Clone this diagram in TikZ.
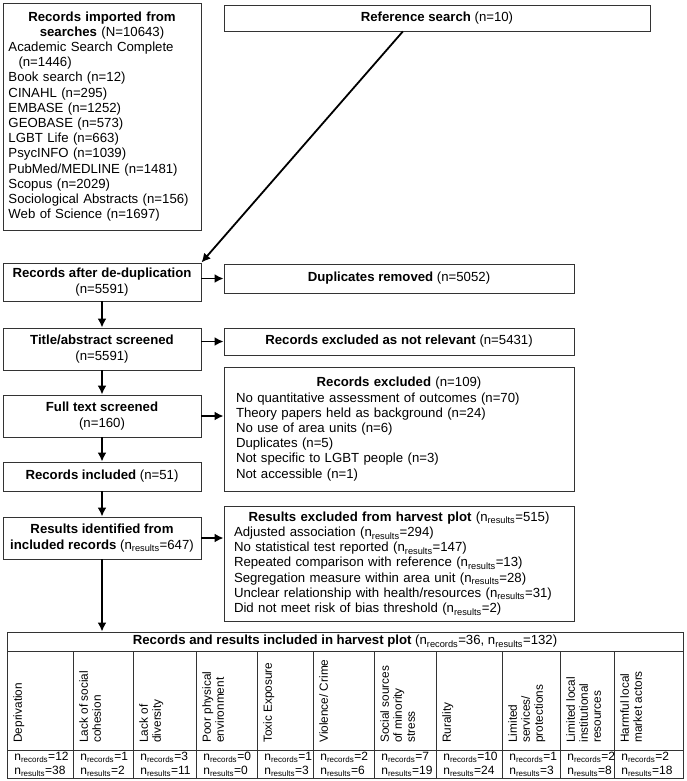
\documentclass[tikz,border=0pt]{standalone}
\usepackage{fontspec}
\setmainfont{Liberation Sans}
\usetikzlibrary{arrows.meta,calc}
\newcommand{\nrecords}{n\textsubscript{records}}
\newcommand{\nresults}{n\textsubscript{results}}
\begin{document}
\begin{tikzpicture}[x=1pt,y=-1pt,thick,>={Latex[length=9pt,width=9pt]},
    flow/.style={rectangle,draw=black!80,line width=0.9pt,inner sep=0pt,font=\fontsize{13.2}{15.2}\selectfont},
    stage/.style={flow,minimum width=198pt},
    side/.style={flow,minimum width=350pt},
    arrow/.style={->,line width=1.8pt},
    cell/.style={inner sep=2pt,font=\fontsize{11.8}{13}\selectfont}]
    \useasboundingbox (0,0) rectangle (686,781);
    \node[flow,minimum width=198pt,minimum height=227pt,text width=187pt,align=left] at (102,116.5) (search) {%
        {\centering\textbf{Records imported from}\\\textbf{searches} (N=10643)\par}
        Academic Search Complete\\
        \hspace*{10pt}(n=1446)\\
        Book search (n=12)\\
        CINAHL (n=295)\\
        EMBASE (n=1252)\\
        GEOBASE (n=573)\\
        LGBT Life (n=663)\\
        PsycINFO (n=1039)\\
        PubMed/MEDLINE (n=1481)\\
        Scopus (n=2029)\\
        Sociological Abstracts (n=156)\\
        Web of Science (n=1697)};
    \node[flow,minimum width=426pt,minimum height=26pt] at (437,18) (ref) {\textbf{Reference search} (n=10)};
    \node[stage,minimum height=38pt,align=center] at (102,282) (dedup) {\textbf{Records after de-duplication}\\(n=5591)};
    \node[side,minimum height=29pt] at (399,278.5) (dup) {\textbf{Duplicates removed} (n=5052)};
    \node[stage,minimum height=42pt,align=center] at (102,349) (title) {\textbf{Title/abstract screened}\\(n=5591)};
    \node[side,minimum height=27pt] at (399,341.5) (notrel) {\textbf{Records excluded as not relevant} (n=5431)};
    \node[stage,minimum height=42pt,align=center] at (102,416) (full) {\textbf{Full text screened}\\(n=160)};
    \node[side,minimum height=124pt,text width=326pt,align=left] at (399,429) (excl) {%
        {\centering\textbf{Records excluded} (n=109)\par}
        No quantitative assessment of outcomes (n=70)\\
        Theory papers held as background (n=24)\\
        No use of area units (n=6)\\
        Duplicates (n=5)\\
        Not specific to LGBT people (n=3)\\
        Not accessible (n=1)};
    \node[stage,minimum height=29pt] at (102,476.5) (incl) {\textbf{Records included} (n=51)};
    \node[stage,minimum height=42pt,align=center] at (102,538) (results) {\textbf{Results identified from}\\\textbf{included records} (\nresults=647)};
    \node[side,minimum height=115pt,text width=330pt,align=left] at (399,563.5) (resexcl) {%
        {\centering\textbf{Results excluded from harvest plot} (\nresults=515)\par}
        Adjusted association (\nresults=294)\\
        No statistical test reported (\nresults=147)\\
        Repeated comparison with reference (\nresults=13)\\
        Segregation measure within area unit (\nresults=28)\\
        Unclear relationship with health/resources (\nresults=31)\\
        Did not meet risk of bias threshold (\nresults=2)};
    \node[rectangle,draw=black!80,line width=0.9pt,inner sep=0pt,minimum width=676pt,minimum height=146pt] at (345,705) (plot) {};
    \node[flow,draw=none] at (345,641.5) (plothead) {\textbf{Records and results included in harvest plot} (\nrecords=36, \nresults=132)};

    % harvest plot columns
    \draw[black!80,line width=0.6pt] (7,651) -- (683,651) (7,750) -- (683,750);
    \foreach \x in {73,133,196,257,313,374,436,502,560,614}
        \draw[black!80,line width=0.6pt] (\x,651) -- (\x,778);
    \foreach \xa/\lab/\nrec/\nres in {7/Deprivation/12/38, 73/{Lack of social\\cohesion}/1/2,
            133/{Lack of\\diversity}/3/11, 196/{Poor physical\\environment}/0/0,
            257/{Toxic Exposure}/1/3, 313/{Violence/ Crime}/2/6,
            374/{Social sources\\of minority\\stress}/7/19, 436/Rurality/10/24,
            502/{Limited\\services/\\protections}/1/3, 560/{Limited local\\institutional\\resources}/2/8,
            614/{Harmful local\\market actors}/2/18} {
        \node[cell,rotate=90,anchor=north west,align=left] at (\xa+4,745) (lab\xa) {\lab};
        \node[cell,anchor=west,align=left,font=\fontsize{12}{14}\selectfont] at (\xa+5,764.5) (num\xa) {\nrecords=\nrec\\\nresults=\nres};
    }

    \path[arrow]
        ($(ref.south west)!0.42!(ref.south east)$) edge (dedup.north east)
        (dup.west -| dedup.east) edge (dup.west)
        (dedup) edge (title)
        (notrel.west -| title.east) edge (notrel.west)
        (title) edge (full)
        (full.east) edge (full.east -| excl.west)
        (full) edge (incl)
        (incl) edge (results)
        (results.east) edge (results.east -| resexcl.west)
        (results) edge (results |- plot.north)
        ;
\end{tikzpicture}
\end{document}
